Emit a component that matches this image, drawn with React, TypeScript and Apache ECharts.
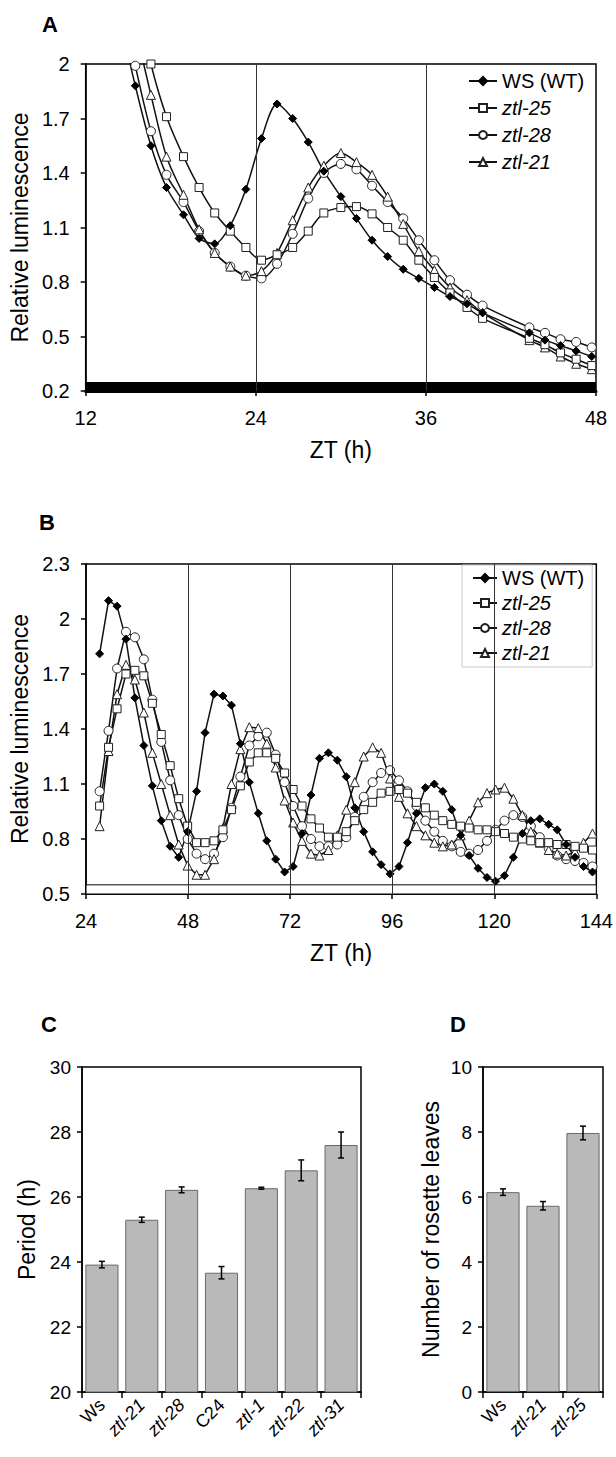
import React, { useEffect, useRef } from 'react';
import * as echarts from 'echarts';

const FONT = '"Liberation Sans", Arial, Helvetica, sans-serif';

// ---------- Panel A (ZT 12-48) ----------
const T_A = [14.4, 15.5, 16.6, 17.7, 18.9, 20.0, 21.1, 22.2, 23.3, 24.4, 25.5, 26.6, 27.7, 28.8, 30.0, 31.1, 32.2, 33.3, 34.4, 35.5, 36.6, 37.7, 38.9, 40.0, 43.3, 44.4, 45.5, 46.6, 47.7];
const WS_A = [2.25, 1.88, 1.55, 1.32, 1.17, 1.04, 1.01, 1.11, 1.31, 1.59, 1.78, 1.70, 1.57, 1.41, 1.27, 1.15, 1.03, 0.94, 0.87, 0.82, 0.77, 0.72, 0.68, 0.63, 0.52, 0.48, 0.45, 0.42, 0.39];
const Z25_A = [null, 2.4, 2.0, 1.71, 1.49, 1.32, 1.18, 1.08, 0.99, 0.92, 0.95, 0.99, 1.08, 1.18, 1.21, 1.215, 1.175, 1.10, 1.03, 0.92, 0.825, 0.74, 0.66, 0.60, 0.49, 0.455, 0.41, 0.375, 0.34];
const Z28_A = [2.4, 1.99, 1.63, 1.39, 1.24, 1.08, 0.96, 0.885, 0.835, 0.82, 0.90, 1.065, 1.26, 1.40, 1.45, 1.42, 1.33, 1.24, 1.15, 1.03, 0.92, 0.81, 0.73, 0.67, 0.55, 0.52, 0.485, 0.47, 0.44];
const Z21_A = [null, 2.2, 1.83, 1.49, 1.28, 1.09, 0.96, 0.885, 0.835, 0.86, 0.96, 1.14, 1.32, 1.44, 1.51, 1.46, 1.39, 1.27, 1.12, 0.97, 0.865, 0.77, 0.70, 0.63, 0.48, 0.44, 0.39, 0.35, 0.32];

// ---------- Panel B (ZT 24-144) ----------
const T_B = [27.2, 29.3, 31.3, 33.4, 35.5, 37.6, 39.6, 41.7, 43.8, 45.8, 47.9, 50.0, 52.0, 54.1, 56.2, 58.2, 60.3, 62.4, 64.5, 66.5, 68.6, 70.7, 72.7, 74.8, 76.9, 78.9, 81.0, 83.1, 85.2, 87.2, 89.3, 91.4, 93.4, 95.5, 97.6, 99.6, 101.7, 103.8, 105.9, 107.9, 110.0, 112.1, 114.1, 116.2, 118.3, 120.3, 122.4, 124.5, 126.6, 128.6, 130.7, 132.8, 134.8, 136.9, 139.0, 141.0, 143.1];
const WS_B = [1.81, 2.10, 2.07, 1.89, 1.57, 1.31, 1.09, 0.90, 0.76, 0.70, 0.84, 1.06, 1.38, 1.59, 1.58, 1.53, 1.32, 1.11, 0.94, 0.79, 0.69, 0.62, 0.65, 0.83, 1.04, 1.24, 1.27, 1.23, 1.14, 0.97, 0.84, 0.73, 0.66, 0.61, 0.65, 0.78, 0.94, 1.08, 1.10, 1.06, 0.96, 0.82, 0.71, 0.64, 0.59, 0.57, 0.60, 0.70, 0.83, 0.90, 0.91, 0.88, 0.85, 0.77, 0.70, 0.65, 0.62];
const Z25_B = [0.98, 1.30, 1.51, 1.70, 1.72, 1.69, 1.54, 1.37, 1.20, 1.02, 0.87, 0.78, 0.78, 0.79, 0.85, 0.96, 1.09, 1.22, 1.27, 1.27, 1.24, 1.16, 1.07, 0.98, 0.91, 0.86, 0.81, 0.81, 0.84, 0.90, 0.96, 1.00, 1.05, 1.06, 1.07, 1.05, 1.00, 0.97, 0.93, 0.90, 0.88, 0.87, 0.86, 0.85, 0.85, 0.84, 0.83, 0.81, 0.80, 0.79, 0.78, 0.78, 0.77, 0.77, 0.76, 0.75, 0.74];
const Z28_B = [1.06, 1.39, 1.73, 1.93, 1.90, 1.78, 1.56, 1.33, 1.12, 0.93, 0.80, 0.72, 0.69, 0.72, 0.81, 0.97, 1.14, 1.31, 1.36, 1.38, 1.26, 1.11, 0.98, 0.87, 0.80, 0.76, 0.76, 0.77, 0.81, 0.92, 1.03, 1.11, 1.16, 1.175, 1.12, 1.06, 0.98, 0.90, 0.84, 0.79, 0.76, 0.73, 0.72, 0.74, 0.79, 0.85, 0.90, 0.93, 0.92, 0.87, 0.81, 0.75, 0.71, 0.69, 0.68, 0.67, 0.65];
const Z21_B = [0.87, 1.28, 1.59, 1.75, 1.67, 1.49, 1.27, 1.10, 0.93, 0.77, 0.655, 0.605, 0.605, 0.69, 0.86, 1.10, 1.29, 1.41, 1.405, 1.32, 1.19, 1.01, 0.89, 0.79, 0.72, 0.71, 0.74, 0.82, 0.96, 1.11, 1.25, 1.30, 1.27, 1.13, 1.03, 0.94, 0.87, 0.82, 0.78, 0.76, 0.77, 0.82, 0.90, 1.00, 1.05, 1.07, 1.08, 1.02, 0.93, 0.84, 0.78, 0.74, 0.72, 0.71, 0.73, 0.78, 0.83];

// ---------- Panel C ----------
const CAT_C = ['Ws', 'ztl-21', 'ztl-28', 'C24', 'ztl-1', 'ztl-22', 'ztl-31'];
const PERIOD = [23.92, 25.3, 26.22, 23.67, 26.27, 26.82, 27.6];
const PERIOD_ERR = [0.1, 0.08, 0.09, 0.19, 0.03, 0.32, 0.4];

// ---------- Panel D ----------
const CAT_D = ['Ws', 'ztl-21', 'ztl-25'];
const LEAVES = [6.15, 5.73, 7.97];
const LEAVES_ERR = [0.1, 0.13, 0.21];

const NAMES = ['WS (WT)', 'ztl-25', 'ztl-28', 'ztl-21'];

const pair = (t: number[], v: (number | null)[]) => t.map((x, i) => [x, v[i]]);

const styleFor = (name: string) => {
  if (name === 'WS (WT)') return { symbol: 'diamond', symbolSize: 8, itemStyle: { color: '#000', borderColor: '#000', borderWidth: 1 } };
  if (name === 'ztl-25') return { symbol: 'rect', symbolSize: 8, itemStyle: { color: '#fff', borderColor: '#222', borderWidth: 1 } };
  if (name === 'ztl-28') return { symbol: 'circle', symbolSize: 9, itemStyle: { color: '#fff', borderColor: '#222', borderWidth: 1 } };
  return { symbol: 'triangle', symbolSize: 9, itemStyle: { color: '#fff', borderColor: '#222', borderWidth: 1 } };
};

const lineSeries = (name: string, data: any[], idx: number, smooth: number | boolean) => ({
  type: 'line',
  name,
  xAxisIndex: idx,
  yAxisIndex: idx,
  data,
  smooth,
  connectNulls: true,
  z: 3,
  lineStyle: { color: '#111', width: 1.5 },
  ...styleFor(name),
});

const axisText = { color: '#000', fontFamily: FONT };

const legendFormatter = (n: string) => (n.startsWith('ztl') ? `{i|${n}}` : n);
const catFormatter = (n: string) => (n.startsWith('ztl') ? `{i|${n}}` : n);

const valueAxisCommon = (labelSize: number, margin: number, lineW = 1.5) => ({
  axisLine: { show: true, lineStyle: { color: '#000', width: lineW } },
  axisTick: { show: true, inside: false, length: 5, lineStyle: { color: '#000', width: 1.5 } },
  axisLabel: { ...axisText, fontSize: labelSize, margin },
  splitLine: { show: false },
  nameTextStyle: { ...axisText, fontSize: 23 },
  nameLocation: 'middle',
});

const errorSeries = (idx: number, vals: number[], errs: number[]) => ({
  type: 'custom',
  xAxisIndex: idx,
  yAxisIndex: idx,
  z: 5,
  data: vals.map((v, i) => [i, v, errs[i]]),
  encode: { x: 0, y: 1 },
  renderItem: (params: any, api: any) => {
    const x = api.value(0);
    const v = api.value(1);
    const e = api.value(2);
    const top = api.coord([x, v + e]);
    const bot = api.coord([x, v - e]);
    const hw = 3;
    const st = { stroke: '#000', lineWidth: 1.5 };
    return {
      type: 'group',
      children: [
        { type: 'line', shape: { x1: top[0], y1: top[1], x2: bot[0], y2: bot[1] }, style: st },
        { type: 'line', shape: { x1: top[0] - hw, y1: top[1], x2: top[0] + hw, y2: top[1] }, style: st },
        { type: 'line', shape: { x1: bot[0] - hw, y1: bot[1], x2: bot[0] + hw, y2: bot[1] }, style: st },
      ],
    };
  },
});

const legendText = {
  fontSize: 20,
  fontFamily: FONT,
  color: '#000',
  rich: { i: { fontStyle: 'italic', fontSize: 20, fontFamily: FONT, color: '#000' } },
};

const buildOption = () => ({
  animation: false,
  backgroundColor: '#fff',
  textStyle: { fontFamily: FONT },
  graphic: [
    { type: 'text', left: 42, top: 13, style: { text: 'A', font: `bold 22px ${FONT}`, fill: '#000' } },
    { type: 'text', left: 39, top: 511, style: { text: 'B', font: `bold 22px ${FONT}`, fill: '#000' } },
    { type: 'text', left: 41, top: 1013, style: { text: 'C', font: `bold 22px ${FONT}`, fill: '#000' } },
    { type: 'text', left: 450, top: 1013, style: { text: 'D', font: `bold 22px ${FONT}`, fill: '#000' } },
  ],
  legend: [
    {
      orient: 'vertical',
      left: 468,
      top: 71,
      padding: 0,
      itemGap: 7,
      itemWidth: 28,
      itemHeight: 10,
      selectedMode: false,
      data: NAMES,
      formatter: legendFormatter,
      textStyle: legendText,
    },
    {
      orient: 'vertical',
      left: 462,
      top: 565,
      padding: [3, 8, 4, 10],
      itemGap: 5,
      itemWidth: 24,
      itemHeight: 10,
      selectedMode: false,
      backgroundColor: '#fff',
      borderColor: '#c8c8c8',
      borderWidth: 1,
      data: NAMES,
      formatter: legendFormatter,
      textStyle: legendText,
    },
  ],
  grid: [
    { left: 84, top: 64, width: 512, height: 327, show: true, borderColor: '#000', borderWidth: 1.5, backgroundColor: 'transparent' },
    { left: 86, top: 564, width: 512, height: 330, show: true, borderColor: '#000', borderWidth: 1.5, backgroundColor: 'transparent' },
    { left: 82, top: 1067, width: 279, height: 325, show: true, borderColor: '#000', borderWidth: 1.5, backgroundColor: 'transparent' },
    { left: 483, top: 1067, width: 120, height: 325, show: true, borderColor: '#000', borderWidth: 1.5, backgroundColor: 'transparent' },
  ],
  xAxis: [
    { type: 'value', gridIndex: 0, min: 12, max: 48, interval: 12, name: 'ZT (h)', nameGap: 47, ...valueAxisCommon(20, 17, 3) },
    { type: 'value', gridIndex: 1, min: 24, max: 144, interval: 24, name: 'ZT (h)', nameGap: 47, ...valueAxisCommon(20, 17) },
    {
      type: 'category',
      gridIndex: 2,
      data: CAT_C,
      axisLine: { show: true, lineStyle: { color: '#000', width: 1.5 } },
      axisTick: { show: true, inside: false, length: 6, alignWithLabel: false, lineStyle: { color: '#000', width: 1.5 } },
      axisLabel: { ...axisText, fontSize: 18, rotate: 45, margin: 10, interval: 0, formatter: catFormatter, rich: { i: { fontStyle: 'italic', fontSize: 18, fontFamily: FONT, color: '#000' } } },
    },
    {
      type: 'category',
      gridIndex: 3,
      data: CAT_D,
      axisLine: { show: true, lineStyle: { color: '#000', width: 1.5 } },
      axisTick: { show: true, inside: false, length: 6, alignWithLabel: false, lineStyle: { color: '#000', width: 1.5 } },
      axisLabel: { ...axisText, fontSize: 18, rotate: 45, margin: 10, interval: 0, formatter: catFormatter, rich: { i: { fontStyle: 'italic', fontSize: 18, fontFamily: FONT, color: '#000' } } },
    },
  ],
  yAxis: [
    { type: 'value', gridIndex: 0, min: 0.2, max: 2, interval: 0.3, name: 'Relative luminescence', nameGap: 43, ...valueAxisCommon(20, 16) },
    { type: 'value', gridIndex: 1, min: 0.5, max: 2.3, interval: 0.3, name: 'Relative luminescence', nameGap: 45, ...valueAxisCommon(20, 16) },
    { type: 'value', gridIndex: 2, min: 20, max: 30, interval: 2, name: 'Period (h)', nameGap: 44, ...valueAxisCommon(19, 11) },
    { type: 'value', gridIndex: 3, min: 0, max: 10, interval: 2, name: 'Number of rosette leaves', nameGap: 41, ...valueAxisCommon(19, 11) },
  ],
  series: [
    {
      type: 'line',
      name: 'bgA',
      xAxisIndex: 0,
      yAxisIndex: 0,
      data: [],
      z: 1,
      silent: true,
      markLine: {
        silent: true,
        symbol: ['none', 'none'],
        label: { show: false },
        lineStyle: { color: '#333', width: 1, type: 'solid' },
        data: [{ xAxis: 24 }, { xAxis: 36 }],
      },
      markArea: {
        silent: true,
        itemStyle: { color: '#000' },
        data: [[{ yAxis: 0.2 }, { yAxis: 0.25 }]],
      },
    },
    {
      type: 'line',
      name: 'bgB',
      xAxisIndex: 1,
      yAxisIndex: 1,
      data: [],
      z: 1,
      silent: true,
      markLine: {
        silent: true,
        symbol: ['none', 'none'],
        label: { show: false },
        lineStyle: { color: '#333', width: 1, type: 'solid' },
        data: [{ xAxis: 48 }, { xAxis: 72 }, { xAxis: 96 }, { xAxis: 120 }],
      },
      markArea: {
        silent: true,
        itemStyle: { color: '#fff', borderColor: '#000', borderWidth: 1 },
        data: [[{ yAxis: 0.5 }, { yAxis: 0.55 }]],
      },
    },
    lineSeries('ztl-28', pair(T_A, Z28_A), 0, 0.3),
    lineSeries('ztl-21', pair(T_A, Z21_A), 0, 0.3),
    lineSeries('ztl-25', pair(T_A, Z25_A), 0, 0.3),
    lineSeries('WS (WT)', pair(T_A, WS_A), 0, 0.3),
    lineSeries('ztl-28', pair(T_B, Z28_B), 1, false),
    lineSeries('ztl-21', pair(T_B, Z21_B), 1, false),
    lineSeries('ztl-25', pair(T_B, Z25_B), 1, false),
    lineSeries('WS (WT)', pair(T_B, WS_B), 1, false),
    {
      type: 'bar',
      xAxisIndex: 2,
      yAxisIndex: 2,
      data: PERIOD,
      barCategoryGap: '17%',
      itemStyle: { color: '#b9b9b9', borderColor: '#6a6a6a', borderWidth: 1 },
    },
    errorSeries(2, PERIOD, PERIOD_ERR),
    {
      type: 'bar',
      xAxisIndex: 3,
      yAxisIndex: 3,
      data: LEAVES,
      barCategoryGap: '17%',
      itemStyle: { color: '#b9b9b9', borderColor: '#6a6a6a', borderWidth: 1 },
    },
    errorSeries(3, LEAVES, LEAVES_ERR),
  ],
});

export default function App() {
  const ref = useRef<HTMLDivElement>(null);
  useEffect(() => {
    if (!ref.current) return;
    const chart = echarts.init(ref.current, null, { renderer: 'svg' });
    chart.setOption(buildOption() as any);
    return () => chart.dispose();
  }, []);
  return (
    <div
      ref={ref}
      style={{ position: 'absolute', left: 0, top: 0, width: 616, height: 1457, background: '#fff' }}
    />
  );
}
